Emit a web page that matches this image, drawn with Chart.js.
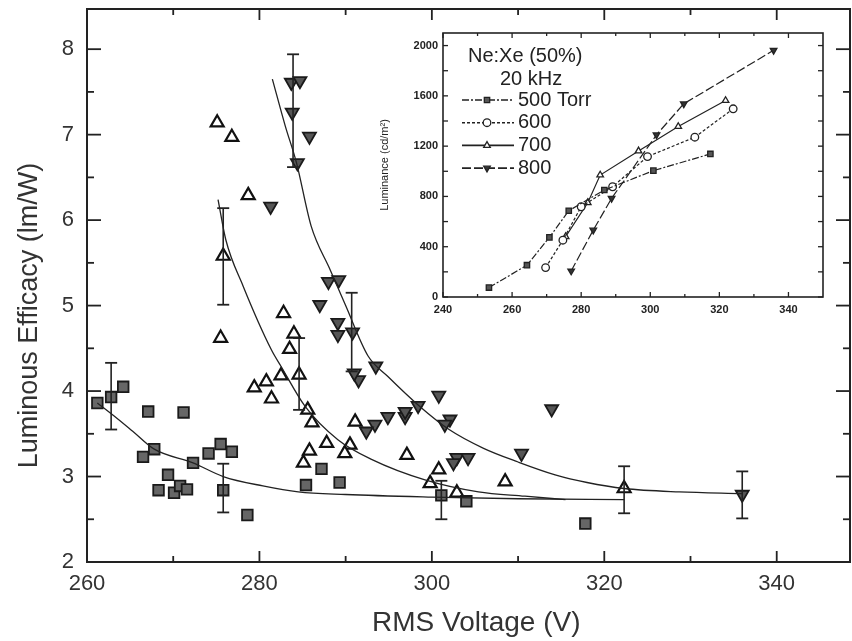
<!DOCTYPE html>
<html><head><meta charset="utf-8">
<script src="https://cdn.jsdelivr.net/npm/chart.js@4.4.1/dist/chart.umd.min.js"></script>
<style>
html,body{margin:0;padding:0;background:#fff;}
#wrap{position:relative;width:852px;height:641px;overflow:hidden;}
#main{position:absolute;left:0;top:0;}
#inset{position:absolute;left:378px;top:22px;}
</style></head><body>
<div id="wrap"><canvas id="main" width="852" height="641"></canvas><canvas id="inset" width="454" height="300"></canvas></div>
<script>
// ---------- main chart data ----------
const xTicks = [260, 280, 300, 320, 340];
const xMinorTicks = [270, 290, 310, 330];
const yTicks = [2, 3, 4, 5, 6, 7, 8];
const yMinorTicks = [2.5, 3.5, 4.5, 5.5, 6.5, 7.5];

// 500 Torr (squares)
const sqV = [261.2, 262.8, 264.2, 266.5, 267.1, 267.8, 268.3, 269.4, 270.1, 270.8, 271.2, 271.6, 272.3, 274.1, 275.5, 275.8, 276.8, 278.6, 285.4, 287.2, 289.3, 301.1, 304.0, 317.8];
const sqE = [3.86, 3.93, 4.05, 3.23, 3.76, 3.32, 2.84, 3.02, 2.81, 2.89, 3.75, 2.85, 3.16, 3.27, 3.38, 2.84, 3.29, 2.55, 2.90, 3.09, 2.93, 2.78, 2.71, 2.45];
// 700 Torr (open triangles)
const triV = [275.1, 276.8, 278.7, 275.8, 282.8, 275.5, 284.0, 283.5, 282.5, 280.8, 279.4, 281.4, 284.6, 285.6, 286.1, 287.8, 285.8, 285.1, 290.5, 289.9, 291.1, 297.1, 300.8, 299.8, 302.9, 308.5, 322.3];
const triE = [7.14, 6.97, 6.29, 5.58, 4.91, 4.62, 4.67, 4.49, 4.18, 4.11, 4.04, 3.91, 4.19, 3.78, 3.63, 3.39, 3.30, 3.16, 3.37, 3.27, 3.64, 3.25, 3.08, 2.92, 2.81, 2.94, 2.86];
// 800 Torr (filled down triangles)
const dtV = [283.7, 284.7, 283.8, 285.8, 284.4, 281.3, 288.0, 289.2, 287.0, 289.1, 289.1, 290.8, 291.5, 291.0, 293.5, 294.9, 293.4, 292.4, 296.9, 296.9, 298.4, 300.8, 302.1, 301.5, 302.9, 304.2, 302.5, 313.9, 310.4, 336.0];
const dtE = [7.61, 7.63, 7.26, 6.98, 6.67, 6.16, 5.28, 5.30, 5.01, 4.80, 4.66, 4.69, 4.13, 4.21, 4.29, 3.70, 3.61, 3.53, 3.70, 3.76, 3.83, 3.95, 3.67, 3.61, 3.22, 3.22, 3.16, 3.79, 3.27, 2.79];

// fitted curves
const fit500V = [261.2, 263.0, 265.3, 267.8, 272.3, 275.8, 280.4, 284.5, 290, 300, 310, 322.3];
const fit500E = [3.86, 3.72, 3.53, 3.32, 3.16, 3.00, 2.89, 2.82, 2.79, 2.76, 2.74, 2.73];
const fit700V = [275.2, 276.1, 278.1, 281.4, 282.5, 285.3, 289.1, 293.0, 299.2, 305.4, 310.8, 315.5];
const fit700E = [6.24, 5.77, 5.23, 4.48, 4.29, 3.82, 3.43, 3.20, 2.96, 2.82, 2.77, 2.73];
const fit800V = [281.5, 283.0, 284.3, 286.0, 288.2, 290.0, 292.6, 294.9, 298.6, 302.0, 306.0, 310.0, 314.3, 318.0, 322.3, 328.7, 336.0];
const fit800E = [7.65, 7.10, 6.67, 5.93, 5.42, 5.00, 4.41, 4.17, 3.82, 3.55, 3.33, 3.17, 3.02, 2.93, 2.86, 2.82, 2.80];

// error bars
const errV  = [262.8, 275.8, 301.1, 275.8, 284.6, 322.3, 283.9, 290.7, 336.0];
const errLo = [3.55, 2.58, 2.50, 5.01, 3.78, 2.57, 6.62, 4.23, 2.51];
const errHi = [4.33, 3.15, 2.95, 6.14, 4.62, 3.12, 7.94, 5.15, 3.06];

// ---------- inset data ----------
const insetXTicks = [240, 260, 280, 300, 320, 340];
const insetXMinor = [250, 270, 290, 310, 330];
const insetYTicks = [0, 400, 800, 1200, 1600, 2000];
const insetYMinor = [200, 600, 1000, 1400, 1800];
const insetTitle = ['Ne:Xe (50%)', '20 kHz'];
const insetLabels = ['500 Torr', '600', '700', '800'];
const i500V = [253.3, 264.3, 270.8, 276.4, 286.7, 300.9, 317.4];
const i500L = [75, 253, 474, 686, 851, 1005, 1138];
const i600V = [269.7, 274.7, 280.0, 289.1, 299.2, 312.9, 324.0];
const i600L = [234, 452, 718, 877, 1117, 1271, 1497];
const i700V = [275.5, 281.9, 285.5, 296.6, 308.1, 321.8];
const i700L = [480, 750, 970, 1162, 1356, 1563];
const i800V = [277.1, 283.5, 288.8, 301.8, 309.7, 335.7];
const i800L = [207, 532, 785, 1290, 1537, 1962];

const FONT = "'Liberation Sans', Arial, Helvetica, sans-serif";
const INK = '#222';
const pts = (xs, ys) => xs.map((v, i) => ({x: v, y: ys[i]}));
const noPad = s => { s.paddingTop = 0; s.paddingBottom = 0; s.paddingLeft = 0; s.paddingRight = 0; };

const framePlugin = {
  id: 'frame',
  afterDraw(chart, args, o) {
    const {ctx, chartArea: a, scales: {x, y}} = chart;
    ctx.save();
    ctx.strokeStyle = o.color;
    ctx.lineWidth = o.tickWidth;
    const seg = (x1, y1, x2, y2) => { ctx.beginPath(); ctx.moveTo(x1, y1); ctx.lineTo(x2, y2); ctx.stroke(); };
    const xt = (vals, len) => vals.forEach(v => { const p = x.getPixelForValue(v); seg(p, a.bottom, p, a.bottom - len); seg(p, a.top, p, a.top + len); });
    const yt = (vals, len) => vals.forEach(v => { const p = y.getPixelForValue(v); seg(a.left, p, a.left + len, p); seg(a.right, p, a.right - len, p); });
    xt(o.xMajor, o.xMajorLen); xt(o.xMinor, o.xMinorLen);
    yt(o.yMajor, o.yMajorLen); yt(o.yMinor, o.yMinorLen);
    ctx.lineWidth = o.width;
    ctx.strokeRect(a.left, a.top, a.right - a.left, a.bottom - a.top);
    ctx.restore();
  }
};

const lineDs = (xs, ys) => ({data: pts(xs, ys), showLine: true, borderColor: INK, borderWidth: 1.3, pointRadius: 0, cubicInterpolationMode: 'monotone', fill: false});

const errData = errV.flatMap((v, i) => [{x: v, y: errLo[i]}, {x: v, y: errHi[i]}, {x: v, y: null}]);

new Chart(document.getElementById('main'), {
  type: 'scatter',
  data: {datasets: [
    lineDs(fit500V, fit500E),
    lineDs(fit700V, fit700E),
    lineDs(fit800V, fit800E),
    {data: errData, showLine: true, spanGaps: false, borderColor: INK, borderWidth: 1.6,
     pointStyle: 'line', pointRadius: 6, pointBorderColor: INK, pointBorderWidth: 1.8, pointBackgroundColor: INK},
    {data: pts(sqV, sqE), pointStyle: 'rect', pointRadius: 7.5, pointBackgroundColor: '#666', pointBorderColor: '#1a1a1a', pointBorderWidth: 1.8},
    {data: pts(triV, triE), pointStyle: 'triangle', pointRadius: 7.5, pointBackgroundColor: '#fff', pointBorderColor: '#111', pointBorderWidth: 2.2},
    {data: pts(dtV, dtE), pointStyle: 'triangle', pointRotation: 180, pointRadius: 7.5, pointBackgroundColor: '#555', pointBorderColor: '#1a1a1a', pointBorderWidth: 1.8}
  ]},
  options: {
    responsive: false, animation: false, devicePixelRatio: 1,
    layout: {autoPadding: false, padding: {left: 10, top: 9, right: 2, bottom: 0}},
    plugins: {legend: {display: false}, tooltip: {enabled: false},
      frame: {color: INK, width: 2, tickWidth: 1.8, xMajor: xTicks, xMinor: xMinorTicks, yMajor: yTicks, yMinor: yMinorTicks,
              xMajorLen: 11, xMinorLen: 6, yMajorLen: 14, yMinorLen: 7}},
    scales: {
      x: {type: 'linear', min: 260, max: 348.5,
        grid: {display: false, drawTicks: false}, border: {display: false},
        afterBuildTicks: s => { s.ticks = xTicks.map(v => ({value: v})); },
        afterFit: s => { s.height = 79; noPad(s); },
        ticks: {font: {size: 22, family: FONT}, color: '#333', padding: 9, maxRotation: 0},
        title: {display: true, text: '  RMS Voltage (V)', font: {size: 28, family: FONT}, color: '#333', padding: {top: 0, bottom: 1}}},
      y: {type: 'linear', min: 2, max: 8.47,
        grid: {display: false, drawTicks: false}, border: {display: false},
        afterBuildTicks: s => { s.ticks = yTicks.map(v => ({value: v})); },
        afterFit: s => { s.width = 77; noPad(s); },
        ticks: {font: {size: 22, family: FONT}, color: '#333', padding: 13},
        title: {display: true, text: 'Luminous Efficacy (lm/W)        ', font: {size: 27, family: FONT}, color: '#333', padding: {top: 3, bottom: 0}}}
    }
  },
  plugins: [framePlugin]
});

// ---------- inset ----------
const insetStyles = [
  {pointStyle: 'rect', fill: '#555', dash: [7, 2, 2, 2]},
  {pointStyle: 'circle', fill: '#fff', dash: [3, 2]},
  {pointStyle: 'triangle', fill: '#fff', dash: []},
  {pointStyle: 'triangle', fill: '#333', dash: [9, 3], rot: 180}
];
const insetSeries = [[i500V, i500L], [i600V, i600L], [i700V, i700L], [i800V, i800L]];

const insetLegend = {
  id: 'insetLegend',
  afterDraw(chart, args, o) {
    const {ctx, chartArea: a} = chart;
    ctx.save();
    ctx.fillStyle = INK;
    ctx.font = `20px ${FONT}`;
    ctx.textBaseline = 'middle';
    ctx.textAlign = 'left';
    ctx.fillText(o.title[0], a.left + 25, a.top + 23);
    ctx.fillText(o.title[1], a.left + 57, a.top + 46);
    o.labels.forEach((lab, i) => {
      const yy = a.top + 67 + i * 22.7;
      const st = insetStyles[i];
      ctx.strokeStyle = INK; ctx.lineWidth = 1.6;
      ctx.setLineDash(st.dash);
      ctx.beginPath(); ctx.moveTo(a.left + 19, yy); ctx.lineTo(a.left + 71, yy); ctx.stroke();
      ctx.setLineDash([]);
      const opts = {pointStyle: st.pointStyle, radius: 3.8, rotation: st.rot || 0, borderWidth: 1.3};
      ctx.fillStyle = st.fill; ctx.strokeStyle = INK; ctx.lineWidth = 1.3;
      if (Chart.helpers && Chart.helpers.drawPoint) {
        Chart.helpers.drawPoint(ctx, opts, a.left + 44, yy);
      }
      ctx.fillStyle = INK;
      ctx.fillText(lab, a.left + 75, yy);
    });
    ctx.restore();
  }
};

new Chart(document.getElementById('inset'), {
  type: 'scatter',
  data: {datasets: insetSeries.map((s, i) => ({
    data: pts(s[0], s[1]), showLine: true, borderColor: INK, borderWidth: 1.2, borderDash: insetStyles[i].dash,
    pointStyle: insetStyles[i].pointStyle, pointRotation: insetStyles[i].rot || 0, pointRadius: 3.8,
    pointBackgroundColor: insetStyles[i].fill, pointBorderColor: INK, pointBorderWidth: 1.3
  }))},
  options: {
    responsive: false, animation: false, devicePixelRatio: 1,
    layout: {autoPadding: false, padding: {left: 0, top: 11, right: 9, bottom: 0}},
    plugins: {legend: {display: false}, tooltip: {enabled: false},
      frame: {color: INK, width: 1.6, tickWidth: 1.3, xMajor: insetXTicks, xMinor: insetXMinor, yMajor: insetYTicks, yMinor: insetYMinor,
              xMajorLen: 5, xMinorLen: 3, yMajorLen: 5, yMinorLen: 5},
      insetLegend: {title: insetTitle, labels: insetLabels}},
    scales: {
      x: {type: 'linear', min: 240, max: 350,
        grid: {display: false, drawTicks: false}, border: {display: false},
        afterBuildTicks: s => { s.ticks = insetXTicks.map(v => ({value: v})); },
        afterFit: s => { s.height = 25; noPad(s); },
        ticks: {font: {size: 11, family: FONT, weight: 'bold'}, color: INK, padding: 6, maxRotation: 0, callback: v => String(v)}},
      y: {type: 'linear', min: 0, max: 2100,
        grid: {display: false, drawTicks: false}, border: {display: false},
        afterBuildTicks: s => { s.ticks = insetYTicks.map(v => ({value: v})); },
        afterFit: s => { s.width = 65; noPad(s); },
        ticks: {font: {size: 11, family: FONT, weight: 'bold'}, color: INK, padding: 5, callback: v => String(v)},
        title: {display: true, text: 'Luminance (cd/m²)', font: {size: 11, family: FONT}, color: INK, padding: {top: 0, bottom: 0}}}
    }
  },
  plugins: [framePlugin, insetLegend]
});
</script>
</body></html>
